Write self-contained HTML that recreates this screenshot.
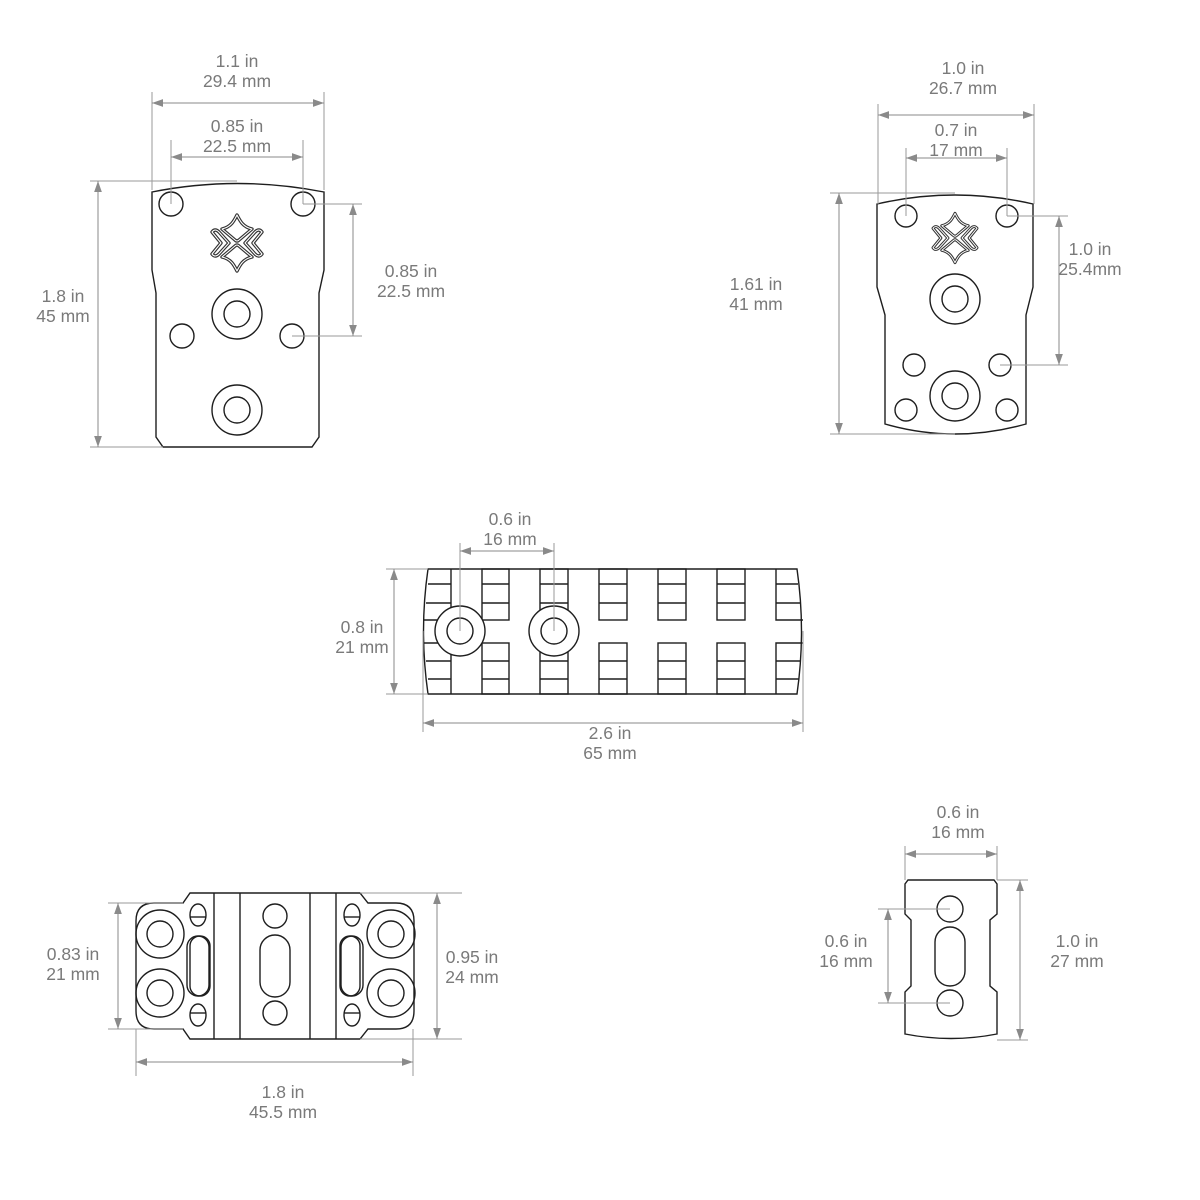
<!DOCTYPE html>
<html><head><meta charset="utf-8"><style>
html,body{margin:0;padding:0;background:#fff;}
svg{display:block;}
text{font-family:"Liberation Sans",sans-serif;font-size:17.5px;fill:#7a7a7a;text-anchor:middle;}
.p{fill:#fff;stroke:#1e1e1e;stroke-width:1.4;}
.n{fill:none;stroke:#1e1e1e;stroke-width:1.4;}
.d{stroke:#8a8a8a;stroke-width:1;fill:none;marker-start:url(#a);marker-end:url(#a);}
.e{stroke:#9a9a9a;stroke-width:1;fill:none;}
</style></head><body>
<svg width="1200" height="1200" viewBox="0 0 1200 1200" xmlns="http://www.w3.org/2000/svg">
<defs>
<marker id="a" viewBox="0 0 10 10" refX="10" refY="5" markerWidth="11" markerHeight="11" markerUnits="userSpaceOnUse" orient="auto-start-reverse"><path d="M0,1.5 L10,5 L0,8.5Z" fill="#8a8a8a"/></marker>
<g id="logo">
<g fill="none" stroke="#333" stroke-width="3.4" stroke-linejoin="round">
<path d="M0,-28 C3,-22 6,-16 15,-14 L2,-3 Q0,-1 -2,-3 L-15,-14 C-6,-16 -3,-22 0,-28Z"/>
<path d="M0,28 C3,22 6,16 15,14 L2,3 Q0,1 -2,3 L-15,14 C-6,16 -3,22 0,28Z"/>
<path d="M-25,-11 Q-22,-15 -18,-11 L-8,0 L-18,11 Q-22,15 -25,11 L-16,0Z"/>
<path d="M25,-11 Q22,-15 18,-11 L8,0 L18,11 Q22,15 25,11 L16,0Z"/>
</g>
<g fill="none" stroke="#fff" stroke-width="1.1" stroke-linejoin="round">
<path d="M0,-28 C3,-22 6,-16 15,-14 L2,-3 Q0,-1 -2,-3 L-15,-14 C-6,-16 -3,-22 0,-28Z"/>
<path d="M0,28 C3,22 6,16 15,14 L2,3 Q0,1 -2,3 L-15,14 C-6,16 -3,22 0,28Z"/>
<path d="M-25,-11 Q-22,-15 -18,-11 L-8,0 L-18,11 Q-22,15 -25,11 L-16,0Z"/>
<path d="M25,-11 Q22,-15 18,-11 L8,0 L18,11 Q22,15 25,11 L16,0Z"/>
</g>
</g>
</defs>

<!-- ===== Top-left plate ===== -->
<path class="p" d="M152,192 Q237,175 324,192 L324,270 L319,293 L319,437 L312,447 L163,447 L156,437 L156,293 L152,270 Z"/>
<circle class="n" cx="171" cy="204" r="12"/><circle class="n" cx="303" cy="204" r="12"/>
<use href="#logo" x="237" y="243"/>
<circle class="n" cx="237" cy="314" r="25"/><circle class="n" cx="237" cy="314" r="13"/>
<circle class="n" cx="182" cy="336" r="12"/><circle class="n" cx="292" cy="336" r="12"/>
<circle class="n" cx="237" cy="410" r="25"/><circle class="n" cx="237" cy="410" r="13"/>
<path class="e" d="M152,92 V190 M324,92 V190 M171,140 V204 M303,140 V204 M90,181 H237 M90,447 H163 M303,204 H362 M292,336 H362"/>
<path class="d" d="M152,103 H324"/>
<path class="d" d="M171,157 H303"/>
<path class="d" d="M98,181 V447"/>
<path class="d" d="M353,204 V336"/>
<text x="237" y="67">1.1 in</text><text x="237" y="87">29.4 mm</text>
<text x="237" y="132">0.85 in</text><text x="237" y="152">22.5 mm</text>
<text x="63" y="302">1.8 in</text><text x="63" y="322">45 mm</text>
<text x="411" y="277">0.85 in</text><text x="411" y="297">22.5 mm</text>

<!-- ===== Top-right plate ===== -->
<path class="p" d="M877,204 Q955,186 1033,204 L1033,287 L1026,315 L1026,424 Q955,444 885,424 L885,315 L877,287 Z"/>
<circle class="n" cx="906" cy="216" r="11"/><circle class="n" cx="1007" cy="216" r="11"/>
<use href="#logo" transform="translate(955,238) scale(0.88)"/>
<circle class="n" cx="955" cy="299" r="25"/><circle class="n" cx="955" cy="299" r="13"/>
<circle class="n" cx="914" cy="365" r="11"/><circle class="n" cx="1000" cy="365" r="11"/>
<circle class="n" cx="955" cy="396" r="25"/><circle class="n" cx="955" cy="396" r="13"/>
<circle class="n" cx="906" cy="410" r="11"/><circle class="n" cx="1007" cy="410" r="11"/>
<path class="e" d="M878,104 V204 M1034,104 V204 M906,148 V216 M1007,148 V216 M830,193 H955 M830,434 H955 M1007,216 H1068 M1000,365 H1068"/>
<path class="d" d="M878,115 H1034"/>
<path class="d" d="M906,158 H1007"/>
<path class="d" d="M839,193 V434"/>
<path class="d" d="M1059,216 V365"/>
<text x="963" y="74">1.0 in</text><text x="963" y="94">26.7 mm</text>
<text x="956" y="136">0.7 in</text><text x="956" y="156">17 mm</text>
<text x="756" y="290">1.61 in</text><text x="756" y="310">41 mm</text>
<text x="1090" y="255">1.0 in</text><text x="1090" y="275">25.4mm</text>

<!-- ===== Rail ===== -->
<path class="p" d="M428,569 L797,569 Q806,631 797,694 L428,694 Q419,631 428,569 Z"/>
<g class="n">
<path d="M428,584 H451 M426,603 H451 M424,620 H451 M424,643 H451 M426,661 H451 M428,679 H451 M451,569 V694"/>
<path d="M776,569 V620 H803 M776,584 H798 M776,603 H801 M776,694 V643 H803 M776,661 H801 M776,679 H799"/>
</g>
<g class="n">
<rect x="482" y="569" width="27" height="51"/><rect x="482" y="643" width="27" height="51"/>
<rect x="540" y="569" width="28" height="51"/><rect x="540" y="643" width="28" height="51"/>
<rect x="599" y="569" width="28" height="51"/><rect x="599" y="643" width="28" height="51"/>
<rect x="658" y="569" width="28" height="51"/><rect x="658" y="643" width="28" height="51"/>
<rect x="717" y="569" width="28" height="51"/><rect x="717" y="643" width="28" height="51"/>
<path d="M482,584 H509 M482,603 H509 M482,661 H509 M482,679 H509
M540,584 H568 M540,603 H568 M540,661 H568 M540,679 H568
M599,584 H627 M599,603 H627 M599,661 H627 M599,679 H627
M658,584 H686 M658,603 H686 M658,661 H686 M658,679 H686
M717,584 H745 M717,603 H745 M717,661 H745 M717,679 H745"/>
</g>
<circle class="p" cx="460" cy="631" r="25"/><circle class="n" cx="460" cy="631" r="13"/>
<circle class="p" cx="554" cy="631" r="25"/><circle class="n" cx="554" cy="631" r="13"/>
<path class="e" d="M460,543 V631 M554,543 V631 M386,569 H428 M386,694 H428 M423,631 V732 M803,631 V732"/>
<path class="d" d="M460,551 H554"/>
<path class="d" d="M394,569 V694"/>
<path class="d" d="M423,723 H803"/>
<text x="510" y="525">0.6 in</text><text x="510" y="545">16 mm</text>
<text x="362" y="633">0.8 in</text><text x="362" y="653">21 mm</text>
<text x="610" y="739">2.6 in</text><text x="610" y="759">65 mm</text>

<!-- ===== Bottom-left part ===== -->
<path class="p" d="M190,893 L360,893 L368,903 L396,903 Q414,903 414,921 L414,1011 Q414,1029 396,1029 L368,1029 L360,1039 L190,1039 L183,1029 L154,1029 Q136,1029 136,1011 L136,921 Q136,903 154,903 L183,903 Z"/>
<path class="n" d="M214,893 V1039 M240,893 V1039 M310,893 V1039 M336,893 V1039"/>
<g class="n">
<circle cx="160" cy="934" r="24"/><circle cx="160" cy="934" r="13"/>
<circle cx="160" cy="993" r="24"/><circle cx="160" cy="993" r="13"/>
<circle cx="391" cy="934" r="24"/><circle cx="391" cy="934" r="13"/>
<circle cx="391" cy="993" r="24"/><circle cx="391" cy="993" r="13"/>
<ellipse cx="198" cy="915" rx="8" ry="11"/><path d="M190,917 H206"/>
<ellipse cx="198" cy="1015" rx="8" ry="11"/><path d="M190,1013 H206"/>
<ellipse cx="352" cy="915" rx="8" ry="11"/><path d="M344,917 H360"/>
<ellipse cx="352" cy="1015" rx="8" ry="11"/><path d="M344,1013 H360"/>
<rect x="187" y="936" width="22" height="60" rx="11"/>
<rect x="190" y="936" width="20" height="60" rx="10"/>
<rect x="341" y="936" width="22" height="60" rx="11"/>
<rect x="340" y="936" width="20" height="60" rx="10"/>
<circle cx="275" cy="916" r="12"/><circle cx="275" cy="1013" r="12"/>
<rect x="260" y="935" width="30" height="62" rx="15"/>
</g>
<path class="e" d="M108,903 H183 M108,1029 H183 M360,893 H462 M360,1039 H462 M136,1029 V1076 M413,1029 V1076"/>
<path class="d" d="M118,903 V1029"/>
<path class="d" d="M437,893 V1039"/>
<path class="d" d="M136,1062 H413"/>
<text x="73" y="960">0.83 in</text><text x="73" y="980">21 mm</text>
<text x="472" y="963">0.95 in</text><text x="472" y="983">24 mm</text>
<text x="283" y="1098">1.8 in</text><text x="283" y="1118">45.5 mm</text>

<!-- ===== Bottom-right part ===== -->
<path class="p" d="M908,880 L994,880 L997,884 L997,914 L990,920 L990,986 L997,992 L997,1034 Q951,1043 905,1034 L905,992 L911,986 L911,920 L905,914 L905,884 Z"/>
<g class="n">
<circle cx="950" cy="909" r="13"/><circle cx="950" cy="1003" r="13"/>
<rect x="935" y="927" width="30" height="59" rx="15"/>
</g>
<path class="e" d="M905,846 V880 M997,846 V880 M997,880 H1028 M997,1040 H1028 M878,909 H950 M878,1003 H950"/>
<path class="d" d="M905,854 H997"/>
<path class="d" d="M888,909 V1003"/>
<path class="d" d="M1020,880 V1040"/>
<text x="958" y="818">0.6 in</text><text x="958" y="838">16 mm</text>
<text x="846" y="947">0.6 in</text><text x="846" y="967">16 mm</text>
<text x="1077" y="947">1.0 in</text><text x="1077" y="967">27 mm</text>
</svg>
</body></html>
